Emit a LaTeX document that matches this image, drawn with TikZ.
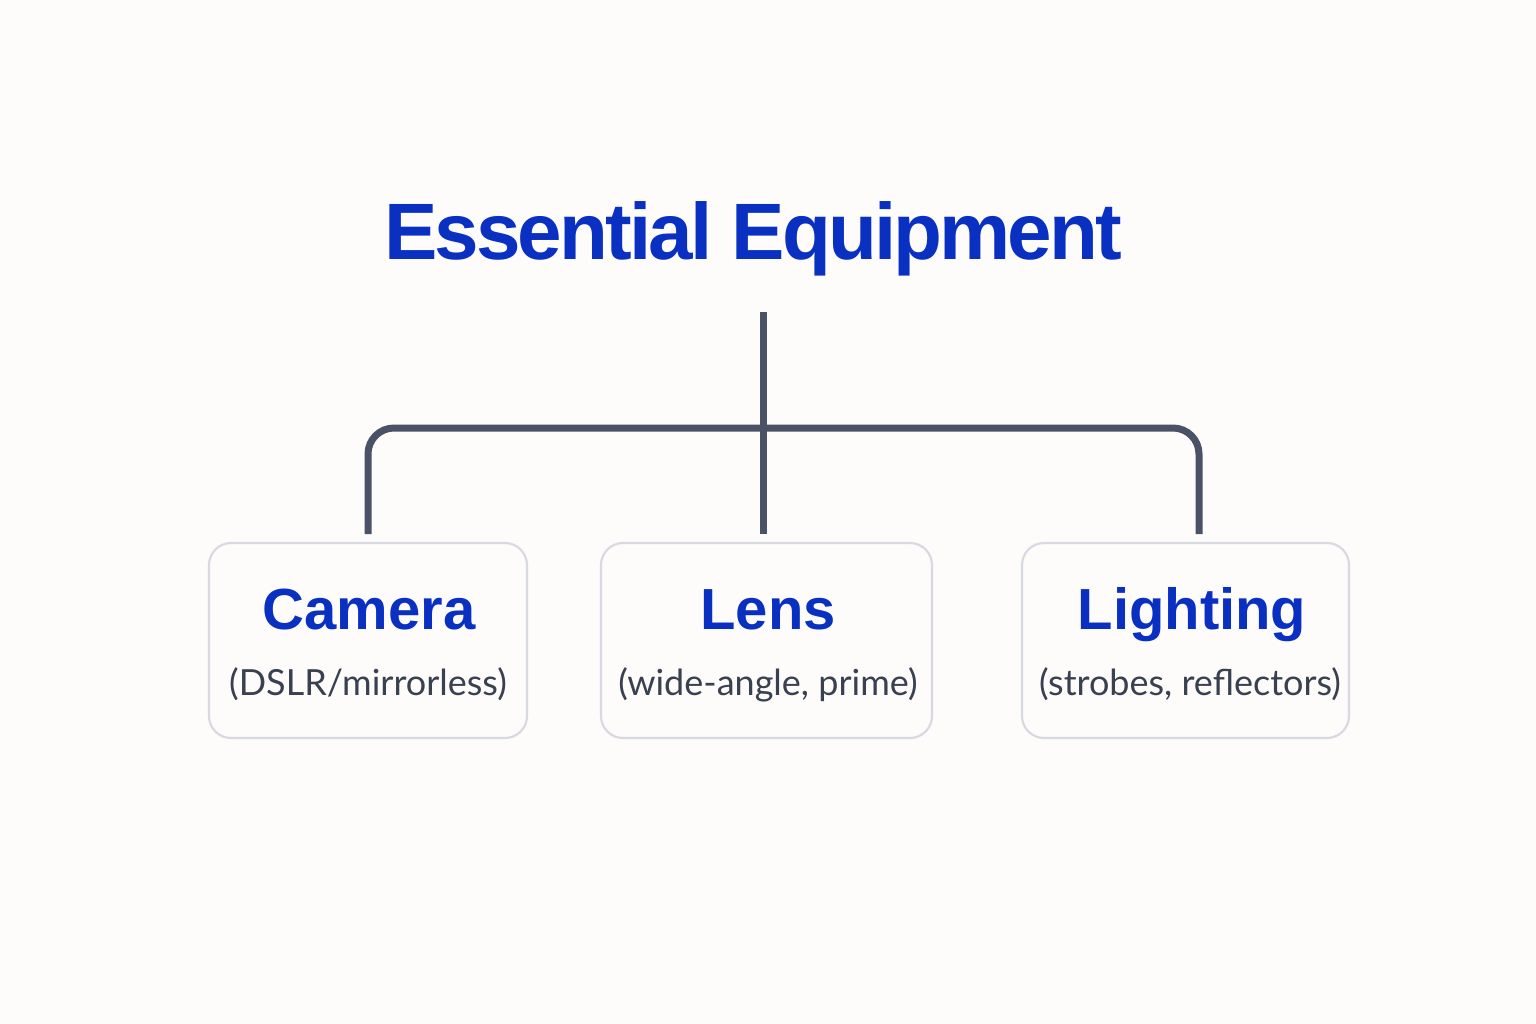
\documentclass[tikz,border=0pt]{standalone}
\usepackage{fontspec}
\setmainfont{Liberation Sans}
\newfontfamily\subfont{Lato}
\newfontfamily\titlefont[LetterSpace=-3.6]{Liberation Sans Bold}
\definecolor{bgc}{HTML}{FDFCFB}
\definecolor{titleblue}{HTML}{0A30C2}
\definecolor{linec}{HTML}{4A5268}
\definecolor{boxborder}{HTML}{D9D9E2}
\definecolor{subc}{HTML}{394050}
\tikzset{
  conn/.style={draw=linec, line width=7pt},
  itembox/.style={draw=boxborder, line width=2.2pt, fill=bgc, rounded corners=22pt, minimum height=195pt, inner sep=0pt},
  itemtitle/.style={font=\bfseries\fontsize{58}{64}\selectfont, text=titleblue, anchor=base, inner sep=0pt},
  itemsub/.style={font=\subfont\fontsize{36}{42}\selectfont, text=subc, anchor=base, inner sep=0pt},
  maintitle/.style={font=\titlefont\fontsize{80}{90}\selectfont, text=titleblue, anchor=base, inner sep=0pt}
}
\begin{document}
\begin{tikzpicture}[x=1pt,y=-1pt]
\fill[bgc] (0,0) rectangle (1536,1024);
\useasboundingbox (0,0) rectangle (1536,1024);
\node[maintitle] (title) at (753,260) {Essential Equipment};
\node[itembox, minimum width=318pt] (cam) at (368,640.5) {};
\node[itembox, minimum width=331pt] (lens) at (766.5,640.5) {};
\node[itembox, minimum width=327pt] (light) at (1185.5,640.5) {};
\node[itemtitle] (camt) at (369,629) {Camera};
\node[itemsub] (cams) at (368,695) {(DSLR/mirrorless)};
\node[itemtitle] (lenst) at (768,629) {Lens};
\node[itemsub] (lenss) at (768,695) {(wide-angle, prime)};
\node[itemtitle] (lightt) at (1192,629) {Lighting};
\node[itemsub] (lights) at (1190,695) {(strobes, reflectors)};
\coordinate (top) at (763,312);
\coordinate (hub) at (763,428);
\coordinate (camtop) at (368,534);
\coordinate (lenstop) at (763,534);
\coordinate (lighttop) at (1199,534);
\draw[conn] (top) -- (lenstop);
\draw[conn, rounded corners=26pt] (camtop) |- (hub) -| (lighttop);
\end{tikzpicture}
\end{document}
